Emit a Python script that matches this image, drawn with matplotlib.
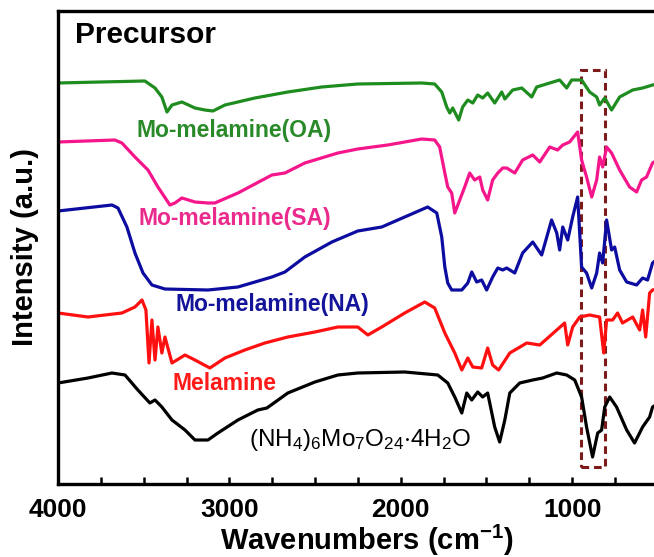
import numpy as np
import matplotlib
matplotlib.use('Agg')
import matplotlib.pyplot as plt
from matplotlib.patches import Rectangle

plt.rcParams['font.family'] = ['Liberation Sans', 'DejaVu Sans']
plt.rcParams['mathtext.fontset'] = 'custom'
plt.rcParams['mathtext.rm'] = 'Liberation Sans'
plt.rcParams['mathtext.bf'] = 'Liberation Sans:bold'
plt.rcParams['mathtext.default'] = 'regular'

# stacked FTIR spectra, intensity in a.u. (already offset)
wn_oa = [4000, 3755, 3493, 3434, 3394, 3364, 3335, 3277, 3201, 3143, 3096, 3026, 2851, 2659, 2461, 2251,
         1878, 1802, 1761, 1732, 1714, 1697, 1662, 1639, 1609, 1580, 1551, 1522, 1493, 1452, 1411, 1393,
         1347, 1294, 1236, 1207, 1131, 1073, 1032, 1003, 945, 898, 857, 840, 810, 770, 723, 647, 589, 531, 400]
int_oa = [401, 402, 403, 396, 387, 372, 379, 382, 376, 374, 373, 379, 386, 392, 397, 400,
          401, 400, 392, 377, 371, 376, 364, 377, 384, 381, 389, 386, 391, 381, 392, 385,
          394, 396, 387, 397, 401, 404, 396, 404, 404, 392, 387, 379, 386, 374, 387, 394, 396, 399, 402]

wn_sa = [4000, 3668, 3627, 3551, 3475, 3417, 3347, 3318, 3277, 3201, 3125, 3085, 2950, 2752, 2676, 2560,
         2367, 2251, 2076, 1878, 1802, 1773, 1743, 1726, 1703, 1685, 1656, 1627, 1598, 1569, 1539, 1522,
         1493, 1464, 1434, 1405, 1382, 1335, 1289, 1230, 1189, 1131, 1085, 1055, 1015, 968, 945, 916,
         886, 857, 840, 822, 799, 770, 723, 665, 624, 595, 566, 531, 400]
int_sa = [342, 344, 341, 327, 314, 297, 279, 281, 286, 282, 281, 281, 291, 309, 311, 321,
          331, 335, 339, 345, 344, 337, 311, 297, 291, 271, 284, 297, 311, 304, 307, 294,
          284, 304, 311, 316, 316, 311, 324, 329, 322, 337, 334, 339, 342, 352, 324, 307,
          287, 304, 327, 317, 337, 331, 314, 297, 292, 304, 307, 321, 335]

wn_na = [4000, 3685, 3650, 3598, 3551, 3504, 3452, 3376, 3125, 2950, 2752, 2676, 2560, 2402, 2251, 2111,
         1977, 1843, 1790, 1761, 1743, 1726, 1703, 1644, 1609, 1586, 1557, 1528, 1499, 1464, 1434, 1405,
         1382, 1335, 1289, 1230, 1178, 1120, 1090, 1073, 1055, 1026, 997, 968, 945, 916, 886, 857,
         840, 822, 799, 770, 752, 723, 682, 624, 589, 560, 531, 400]
int_na = [273, 279, 276, 257, 231, 211, 199, 195, 194, 197, 207, 212, 227, 242, 253, 257,
          267, 277, 271, 247, 217, 201, 194, 194, 201, 212, 202, 204, 194, 207, 216, 214,
          216, 211, 231, 242, 229, 264, 251, 234, 257, 244, 267, 287, 217, 211, 196, 211,
          231, 221, 264, 234, 237, 214, 202, 199, 206, 204, 221, 240]

wn_mel = [4000, 3825, 3627, 3551, 3510, 3487, 3469, 3452, 3434, 3417, 3394, 3376, 3335, 3259, 3201, 3114,
          3026, 2910, 2793, 2659, 2501, 2367, 2251, 2192, 2111, 1977, 1860, 1802, 1743, 1685, 1644, 1609,
          1580, 1528, 1493, 1464, 1429, 1364, 1265, 1189, 1090, 1044, 1026, 997, 956, 898, 840, 816,
          799, 764, 735, 706, 647, 606, 589, 571, 548, 531, 400]
int_mel = [171, 167, 171, 177, 184, 174, 121, 164, 124, 157, 131, 147, 121, 129, 124, 116,
           126, 134, 141, 147, 152, 157, 157, 149, 157, 171, 182, 176, 151, 131, 114, 126,
           117, 116, 136, 119, 114, 131, 141, 139, 154, 161, 139, 157, 167, 169, 167, 131,
           164, 164, 171, 161, 167, 154, 174, 147, 191, 194, 200]

wn_amo = [4000, 3825, 3685, 3609, 3534, 3464, 3434, 3394, 3335, 3259, 3201, 3125, 3067, 2950, 2834, 2781,
          2659, 2501, 2367, 2251, 1977, 1784, 1726, 1685, 1644, 1615, 1586, 1551, 1522, 1493, 1452, 1423,
          1393, 1364, 1306, 1230, 1172, 1090, 1032, 985, 945, 916, 881, 851, 828, 810, 781, 741,
          682, 636, 589, 548, 531, 400]
int_amo = [101, 106, 111, 109, 94, 81, 84, 77, 64, 54, 44, 44, 51, 64, 74, 76,
           91, 102, 109, 111, 112, 109, 101, 87, 71, 91, 84, 92, 87, 91, 57, 42,
           64, 91, 101, 104, 106, 111, 109, 104, 87, 57, 27, 51, 54, 77, 87, 77,
           54, 41, 57, 67, 77, 90]

fig = plt.figure(figsize=(6.54, 5.57), dpi=100)
ax = fig.add_axes([58 / 654, 73 / 557, 617 / 654, 473 / 557])

lw = 2.3
ax.plot(wn_oa, int_oa, color='#1e8c1e', lw=lw)
ax.plot(wn_sa, int_sa, color='#f5168c', lw=lw)
ax.plot(wn_na, int_na, color='#0c0ca0', lw=lw)
ax.plot(wn_mel, int_mel, color='#ff1010', lw=lw)
ax.plot(wn_amo, int_amo, color='black', lw=lw)

# highlighted Mo-O region
ax.add_patch(Rectangle((950, 17), 810 - 950, 414 - 17, fill=False,
                       edgecolor='#7d1a1a', lw=2.2, ls=(0, (2.5, 1.6))))

ax.set_xlim(4000, 400)
ax.set_ylim(0, 473)
ax.set_xticks([4000, 3000, 2000, 1000])
ax.set_xticks(np.arange(4000, 399, -250), minor=True)
ax.tick_params(axis='x', which='both', direction='in', length=5, width=1.8,
               labelsize=19, pad=10)
ax.tick_params(axis='y', left=False, labelleft=False)
for lab in ax.get_xticklabels():
    lab.set_fontweight('bold')
for sp in ax.spines.values():
    sp.set_linewidth(2.4)

ax.set_xlabel(r'Wavenumbers (cm$^{\mathbf{-1}}$)', fontsize=21, fontweight='bold', labelpad=1)
ax.set_ylabel('Intensity (a.u.)', fontsize=21, fontweight='bold', labelpad=14)

ax.text(0.027, 0.978, 'Precursor', transform=ax.transAxes, fontsize=21.5,
        fontweight='bold', ha='left', va='top')
ax.text(2974, 354, 'Mo-melamine(OA)', color='#2a8a2a', fontsize=16.5, fontweight='bold',
        ha='center', va='center')
ax.text(2968, 265, 'Mo-melamine(SA)', color='#ea2a8c', fontsize=16.5, fontweight='bold',
        ha='center', va='center')
ax.text(2752, 179, 'Mo-melamine(NA)', color='#14149a', fontsize=16.5, fontweight='bold',
        ha='center', va='center')
ax.text(3026, 100, 'Melamine', color='#ff1a1a', fontsize=16.5, fontweight='bold',
        ha='center', va='center')
ax.text(2239, 44, r'(NH$_4$)$_6$Mo$_7$O$_{24}$$\cdot$4H$_2$O', color='black', fontsize=17.5,
        ha='center', va='center')

fig.savefig('out.png', dpi=100)
